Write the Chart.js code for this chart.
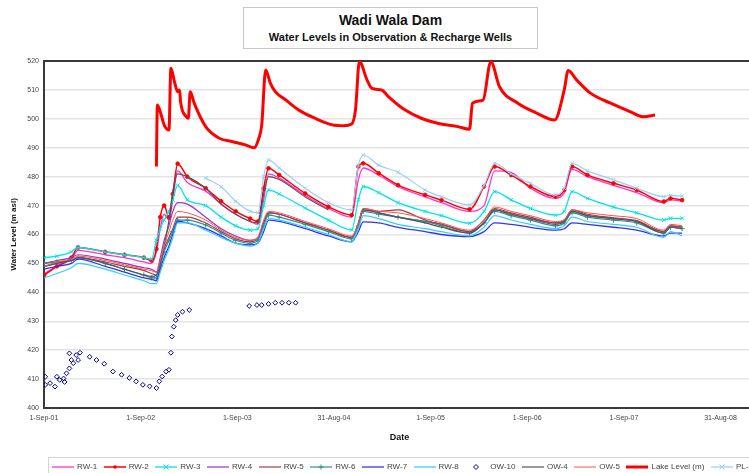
<!DOCTYPE html>
<html lang="en">
<head>
<meta charset="UTF-8">
<title>Wadi Wala Dam - Water Levels</title>
<script src="https://cdn.jsdelivr.net/npm/chart.js"></script>
<style>
  body { margin:0; width:749px; height:473px; overflow:hidden; background:#fff;
         font-family:"Liberation Sans", Arial, sans-serif; position:relative; }
  #wrap { position:absolute; left:0; top:0; width:760px; height:473px; }
  #title { position:absolute; left:243px; top:7px; width:293px; height:40px;
           border:1px solid #c8c8c8; background:#fff; text-align:center; color:#111; }
  #title .t1 { font-weight:bold; font-size:14px; line-height:16px; margin-top:4px; }
  #title .t2 { font-weight:bold; font-size:11px; line-height:14px; margin-top:2px; }
  #legend { position:absolute; left:48px; top:457px; height:17px; width:760px; padding-left:3px;
            border:1px solid #d4d4d4; display:flex; align-items:center; white-space:nowrap;
            font-size:8px; color:#444; }
  .item { display:flex; align-items:center; margin-right:6.5px; }
  .item canvas { margin-right:3px; }
</style>
</head>
<body>
<div id="wrap"><canvas id="chart" width="760" height="473"></canvas></div>
<div id="title">
  <div class="t1">Wadi Wala Dam</div>
  <div class="t2">Water Levels in Observation &amp; Recharge Wells</div>
</div>
<div id="legend"></div>

<script>
// x values are decimal years; axis ticks are every 365.25 days from 1-Sep-01
const tickDays = [0, 365.25, 730.5, 1095.75, 1461, 1826.25, 2191.5, 2556.75];
const tickLabels = ['1-Sep-01', '1-Sep-02', '1-Sep-03', '31-Aug-04', '1-Sep-05', '1-Sep-06', '1-Sep-07', '31-Aug-08'];

// sampling dates of the wells
const dates = [2001.67, 2001.80, 2001.95, 2002.02, 2002.30, 2002.50, 2002.70, 2002.78,
  2002.83, 2002.87, 2002.91, 2002.96, 2003.00, 2003.05,
  2003.15, 2003.34, 2003.50, 2003.65, 2003.80, 2003.88, 2003.94, 2003.99, 2004.10, 2004.37, 2004.61,
  2004.85, 2004.92, 2004.97, 2005.13, 2005.33, 2005.61, 2005.78, 2006.07, 2006.22, 2006.33, 2006.50,
  2006.70, 2006.96, 2007.05, 2007.13, 2007.29, 2007.56, 2007.80, 2008.08, 2008.15, 2008.27];

const rw1 = [446.5, 449, 451.5, 454.5, 453, 452, 450.5, 450,
  454, 462, 467, 465, 472, 482,
  478, 475, 470.5, 467, 464.5, 463.5, 472, 481, 479.5, 473.5, 469,
  466, 479, 483, 480.5, 476.5, 473, 471, 468, 470, 482, 481.5,
  476, 472.5, 474.5, 482.5, 480, 477, 474.5, 471, 472, 471.5];
const rw2 = [446, 449, 452, 455.5, 454, 453, 452, 451,
  455, 466, 470, 466, 474, 484.5,
  480, 476, 471.5, 468, 465.5, 464.5, 476, 482.9, 480.6, 474.2, 469.6,
  466.7, 483.5, 484.6, 481.2, 477.1, 473.7, 471.9, 468.7, 476.6, 483.5, 480.6,
  476.6, 473.1, 475.4, 483.5, 480.6, 477.7, 475.4, 471.4, 472.5, 471.9];
const rw3 = [452, 452.5, 454, 455.5, 454, 453, 452, 451.5,
  458, 462, 465, 468, 472, 477,
  472, 470, 466, 463, 461.5, 462, 470, 475.4, 474, 469.1, 465,
  461.6, 472, 476.6, 474.5, 471, 468, 466.5, 463.9, 468, 474.8, 472,
  469, 466.7, 468, 474.8, 472.5, 469.5, 467.5, 465, 465.6, 465.6];
const rw4 = [450, 451, 452, 453, 451.5, 450, 448.5, 448,
  447, 452, 458, 463, 468, 471,
  470.5, 466, 462, 459.5, 458, 459, 464, 467.5, 467, 464, 461.5,
  459, 463.5, 468.5, 467.5, 466, 464.5, 463.5, 461, 464, 468.5, 467,
  465.5, 464, 464.5, 468, 466.5, 465.5, 464.5, 461, 463, 462.5];
const rw5 = [449, 450, 451, 452, 450.5, 449, 447.5, 446.5,
  446, 450, 455, 459, 462, 466,
  466, 464, 461, 458.5, 457.5, 458.5, 464, 467.5, 467, 464, 461.5,
  459, 464, 469, 468, 468.5, 465, 463.5, 461, 465, 469, 467.5,
  466, 464, 465, 468.5, 467, 465.8, 464.8, 461, 463, 462.5];
const rw6 = [450, 450.5, 451, 452, 450, 448, 446, 445,
  445, 449, 454, 458, 461, 465,
  465, 463.3, 460.5, 458, 457, 458, 463, 466.7, 466, 463.5, 461,
  458.5, 463, 468, 467, 466, 464.5, 463, 460.5, 464, 468, 466.5,
  465, 463, 464, 467.5, 466, 465, 464, 460.5, 462.5, 462];
const rw7 = [448, 449, 450, 451.5, 449, 447, 445, 444.5,
  444, 448, 452, 456, 460, 464.5,
  464, 462, 459.5, 457, 456.4, 457, 461, 465, 464.5, 462, 459.5,
  457.5, 461, 464.4, 464, 462.5, 461, 460, 459.3, 461, 464, 463.5,
  462.5, 461.5, 462, 464, 463.5, 462.5, 461.5, 459.5, 460.5, 460.5];
const rw8 = [445, 446.5, 448.5, 450, 448, 446, 444, 443,
  443, 447, 451, 455, 459, 464,
  464, 461.5, 459, 457, 456, 457, 462, 465.5, 465, 462.5, 460,
  457.5, 462, 466.5, 465.5, 463.5, 462, 461, 459.5, 462.5, 466.5, 465,
  463.5, 462, 463, 466, 464.5, 463.5, 462.5, 459, 461, 459.5];
const ow4 = [449, 450, 451, 452, 450, 448, 446, 445.5,
  446, 450, 456, 465, 475, 481,
  480, 476, 470.5, 467, 464.5, 464, 474, 480, 479, 473, 468.5,
  null, 464, 468.5, 467.5, 466, 464, 462.5, 460.5, 464, 468.5, 467,
  465.5, 463.5, 464.5, 468, 466.5, 465.5, 464.5, 460.5, 462.5, 462];
const ow5 = [449, 450.5, 451.5, 452.5, 451, 449.5, 448, 447.5,
  447, 451, 456, 461, 465, 468,
  467.5, 465, 461.5, 459, 458, 459, 465, 468, 467.5, 464.5, 462,
  459.5, 464, 469, 468, 467.5, 465.5, 464, 461.5, 465, 469.5, 468,
  466.5, 464.5, 465, 468.5, 467.5, 466.5, 465.5, 461.5, 463.5, 463];
const pl = [null, null, null, null, null, null, null, null,
  null, null, null, null, null, null,
  null, 479.5, 476.5, 471.5, 468, 467.5, 480, 485.8, 483, 476, 471,
  468.5, 484, 487.5, 484, 481.5, 475.4, 473, 470.2, 477, 484.6, 481,
  477.7, 473.7, 476, 484.6, 482, 478.9, 476, 473.1, 473.5, 473.3];

// OW-10 readings
const ow10Dates = [2001.68, 2001.68, 2001.73, 2001.78, 2001.80, 2001.83, 2001.87, 2001.88, 2001.90, 2001.93,
  2001.95, 2001.97, 2001.93, 2002.00, 2002.04, 2002.02, 2002.14, 2002.21, 2002.29, 2002.38,
  2002.47, 2002.55, 2002.62, 2002.69, 2002.76, 2002.83, 2002.86, 2002.89, 2002.93, 2002.96,
  2002.98, 2002.99, 2003.01, 2003.03, 2003.05, 2003.10, 2003.17,
  2003.79, 2003.87, 2003.92, 2003.99, 2004.06, 2004.13, 2004.20, 2004.27];
const ow10Levels = [410.8, 408, 408.6, 407.4, 410.8, 409.7, 410.2, 409, 412, 413.7,
  416.6, 415.5, 418.9, 418.3, 419.1, 416.6, 417.7, 416.6, 415.3, 412.6,
  411.5, 410.4, 409.2, 408, 407.5, 406.9, 409.2, 410.9, 412.6, 413.2,
  419.1, 424.7, 428.1, 430.4, 432.2, 433.3, 433.9,
  435.3, 435.6, 435.6, 436, 436.4, 436.4, 436.4, 436.4];

// Lake level
const lakeDates = [2002.83, 2002.84, 2002.88, 2002.91, 2002.96, 2002.98, 2003.02, 2003.05, 2003.07, 2003.08,
  2003.14, 2003.16, 2003.18, 2003.22, 2003.34, 2003.48, 2003.62, 2003.75, 2003.84, 2003.89,
  2003.92, 2003.96, 2004.01, 2004.06, 2004.17, 2004.30, 2004.47, 2004.65, 2004.77, 2004.85,
  2004.89, 2004.93, 2005.01, 2005.06, 2005.16, 2005.23, 2005.40, 2005.57, 2005.74, 2005.95,
  2006.07, 2006.10, 2006.21, 2006.29, 2006.38, 2006.57, 2006.77, 2006.95, 2007.05, 2007.09,
  2007.18, 2007.32, 2007.53, 2007.73, 2007.87, 2007.99];
const lakeLevels = [483.5, 504.8, 501.3, 497.9, 496.1, 517.5, 512.4, 509.4, 510, 505.9,
  500.7, 500.2, 509.4, 505.5, 497.3, 493.3, 492.1, 491, 490, 493.3,
  497.9, 516.9, 512.3, 509.4, 506.5, 503.1, 500.2, 497.9, 497.6, 498.2,
  503.1, 519.8, 513.4, 510.5, 510, 507.7, 503.1, 500.2, 498.5, 497.3,
  496.4, 505.4, 506.5, 519.8, 511.1, 505.4, 501.9, 499.6, 510, 516.7,
  513.4, 508.9, 505.4, 502.5, 500.7, 501.3];

function toDay(yr) { return (yr - 2001.667) * 365.25; }
function pts(xs, ys) { return xs.map((x, i) => ({ x: toDay(x), y: ys[i] })); }

const series = [
  { label: 'RW-1', xs: dates, ys: rw1, color: '#ff33cc', width: 1.3 },
  { label: 'RW-2', xs: dates, ys: rw2, color: '#ff0000', width: 1.5, point: 'circle', r: 1.8, filled: true },
  { label: 'RW-3', xs: dates, ys: rw3, color: '#00e4e4', width: 1.3, point: 'crossRot', r: 2.6 },
  { label: 'RW-4', xs: dates, ys: rw4, color: '#9933cc', width: 1.2 },
  { label: 'RW-5', xs: dates, ys: rw5, color: '#a53b3b', width: 1.2 },
  { label: 'RW-6', xs: dates, ys: rw6, color: '#2f8f8f', width: 1.2, point: 'cross', r: 2.6 },
  { label: 'RW-7', xs: dates, ys: rw7, color: '#3535ee', width: 1.3 },
  { label: 'RW-8', xs: dates, ys: rw8, color: '#33ccff', width: 1.2 },
  { label: 'OW-10', xs: ow10Dates, ys: ow10Levels, color: '#000080', width: 1, point: 'rectRot', r: 2.4, noLine: true },
  { label: 'OW-4', xs: dates, ys: ow4, color: '#555555', width: 1.2 },
  { label: 'OW-5', xs: dates, ys: ow5, color: '#ff5050', width: 1 },
  { label: 'Lake Level (m)', xs: lakeDates, ys: lakeLevels, color: '#ff0000', width: 3 },
  { label: 'PL-1', xs: dates, ys: pl, color: '#99ccff', width: 1.2, point: 'crossRot', r: 2.6 }
];

const datasets = series.map((s, i) => ({
  label: s.label,
  data: pts(s.xs, s.ys),
  borderColor: s.color,
  backgroundColor: s.filled ? s.color : 'rgba(0,0,0,0)',
  borderWidth: s.width,
  showLine: !s.noLine,
  pointStyle: s.point || 'circle',
  pointRadius: s.point ? s.r : 0,
  pointBorderWidth: 1,
  pointBorderColor: s.color,
  pointBackgroundColor: s.filled ? s.color : 'rgba(0,0,0,0)',
  cubicInterpolationMode: 'monotone',
  spanGaps: false,
  order: series.length - i
}));

// plot-area frame
const frame = {
  id: 'frame',
  beforeDatasetsDraw(chart) {
    const a = chart.chartArea, c = chart.ctx;
    c.save();
    c.strokeStyle = '#3a3a3a';
    c.lineWidth = 2;
    c.strokeRect(a.left, a.top, a.right - a.left, a.bottom - a.top);
    c.restore();
  }
};

new Chart(document.getElementById('chart'), {
  type: 'line',
  data: { datasets: datasets },
  options: {
    responsive: false,
    animation: false,
    layout: { padding: { top: 61, bottom: 29, left: 0, right: 4 } },
    plugins: { legend: { display: false }, tooltip: { enabled: false } },
    scales: {
      x: {
        type: 'linear', min: 0, max: 2687,
        afterBuildTicks: s => { s.ticks = tickDays.map(v => ({ value: v })); },
        afterFit: s => { s.height = 36; },
        grid: { display: false, drawTicks: false },
        border: { display: false },
        ticks: {
          autoSkip: false, maxRotation: 0, padding: 6,
          color: '#444', font: { size: 7 },
          callback: (v, i) => tickLabels[i]
        },
        title: { display: true, text: 'Date', color: '#111', font: { size: 9, weight: 'bold' }, padding: { top: 0, bottom: 1 } }
      },
      y: {
        min: 400, max: 520,
        afterFit: s => { s.width = 44; },
        grid: { color: '#e4e4e4', lineWidth: 1.5, drawTicks: false },
        border: { display: false },
        ticks: { stepSize: 10, padding: 5, color: '#444', font: { size: 7 } },
        title: { display: true, text: 'Water Level (m asl)', color: '#111', font: { size: 8, weight: 'bold' }, padding: { top: 9, bottom: 0 } }
      }
    }
  },
  plugins: [frame]
});

// legend in the style of the original sheet
const legend = document.getElementById('legend');
series.forEach(s => {
  const item = document.createElement('div');
  item.className = 'item';
  const cv = document.createElement('canvas');
  cv.width = 22; cv.height = 10;
  const g = cv.getContext('2d');
  g.strokeStyle = s.color; g.fillStyle = s.color;
  if (!s.noLine) {
    g.lineWidth = s.width;
    g.beginPath(); g.moveTo(0, 5); g.lineTo(22, 5); g.stroke();
  }
  g.lineWidth = 1;
  const r = 2.5;
  if (s.point === 'circle') { g.beginPath(); g.arc(11, 5, 1.8, 0, Math.PI * 2); g.fill(); }
  if (s.point === 'crossRot') { g.beginPath(); g.moveTo(11 - r, 5 - r); g.lineTo(11 + r, 5 + r); g.moveTo(11 + r, 5 - r); g.lineTo(11 - r, 5 + r); g.stroke(); }
  if (s.point === 'cross') { g.beginPath(); g.moveTo(11 - r, 5); g.lineTo(11 + r, 5); g.moveTo(11, 5 - r); g.lineTo(11, 5 + r); g.stroke(); }
  if (s.point === 'rectRot') { g.beginPath(); g.moveTo(11, 5 - r); g.lineTo(11 + r, 5); g.lineTo(11, 5 + r); g.lineTo(11 - r, 5); g.closePath(); g.stroke(); }
  const t = document.createElement('span');
  t.textContent = s.label;
  item.appendChild(cv); item.appendChild(t);
  legend.appendChild(item);
});
</script>
</body>
</html>
